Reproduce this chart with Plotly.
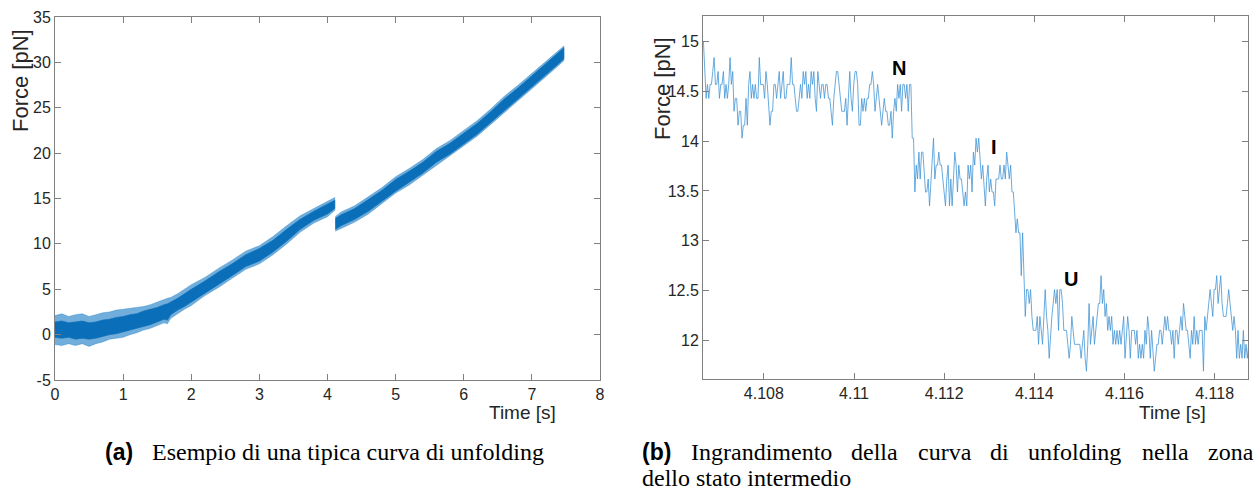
import numpy as np
import plotly.graph_objects as go

# ---------------- data: panel (a) full unfolding curve (noise envelope)
T_A1 = [0.00, 0.10, 0.20, 0.30, 0.40, 0.50, 0.60, 0.70, 0.80, 0.90, 1.00, 1.10, 1.20, 1.30, 1.40,
        1.50, 1.60, 1.65, 1.70, 1.80, 1.90, 2.00, 2.20, 2.40, 2.60, 2.80, 3.00, 3.20, 3.40, 3.60,
        3.80, 4.00, 4.107]
CORE_LO_A1 = [-0.3, -0.4, -0.3, -0.5, -0.4, -0.5, -0.4, -0.2, 0.0, 0.1, 0.3, 0.5, 0.7, 0.9, 1.1,
              1.4, 1.7, 1.6, 2.2, 2.7, 3.1, 3.6, 4.6, 5.5, 6.5, 7.5, 8.1, 9.1, 10.3, 11.6,
              12.6, 13.3, 13.9]
CORE_HI_A1 = [1.4, 1.5, 1.3, 1.4, 1.5, 1.3, 1.4, 1.6, 1.7, 1.9, 2.0, 2.2, 2.3, 2.6, 2.8,
              3.0, 3.3, 3.4, 3.6, 4.0, 4.5, 5.0, 5.9, 6.9, 7.8, 8.8, 9.5, 10.4, 11.6, 12.7,
              13.6, 14.4, 14.8]
OUT_LO_A1 = [-1.1, -1.2, -1.0, -1.2, -1.0, -1.3, -1.0, -0.8, -0.5, -0.4, -0.3, 0.0, 0.2, 0.5, 0.7,
             1.0, 1.3, 1.2, 1.8, 2.3, 2.8, 3.2, 4.3, 5.2, 6.2, 7.2, 7.8, 8.8, 10.0, 11.3,
             12.3, 13.0, 13.7]
OUT_HI_A1 = [2.1, 2.3, 2.0, 2.2, 2.3, 2.0, 2.2, 2.4, 2.5, 2.7, 2.8, 2.9, 3.0, 3.1, 3.3,
             3.6, 3.9, 4.0, 4.1, 4.5, 5.0, 5.5, 6.3, 7.3, 8.2, 9.2, 9.8, 10.8, 12.0, 13.1,
             13.9, 14.7, 15.1]

T_A2 = [4.114, 4.20, 4.40, 4.60, 4.80, 5.00, 5.20, 5.40, 5.60, 5.80, 6.00, 6.20, 6.40, 6.60,
        6.80, 7.00, 7.20, 7.40, 7.47]
CORE_LO_A2 = [11.6, 12.0, 12.7, 13.6, 14.7, 15.8, 16.8, 17.8, 19.0, 19.9, 21.0, 22.1, 23.4, 24.8,
              26.0, 27.3, 28.6, 29.9, 30.4]
CORE_HI_A2 = [12.8, 13.2, 13.9, 14.9, 15.9, 17.1, 18.0, 19.0, 20.2, 21.1, 22.2, 23.3, 24.6, 26.0,
              27.2, 28.5, 29.8, 31.1, 31.6]
OUT_LO_A2 = [11.4, 11.7, 12.4, 13.3, 14.4, 15.6, 16.5, 17.5, 18.7, 19.7, 20.8, 21.9, 23.2, 24.6,
             25.8, 27.1, 28.4, 29.7, 30.2]
OUT_HI_A2 = [13.0, 13.5, 14.2, 15.2, 16.2, 17.4, 18.3, 19.3, 20.5, 21.4, 22.5, 23.6, 24.9, 26.3,
             27.5, 28.8, 30.1, 31.4, 31.8]

# ---------------- data: panel (b) zoom on the intermediate state (samples)
T0_B = 4.10666          # time of first sample [s]
DT_B = 0.0000295        # sampling step [s]

F_N1 = [15.0, 14.70, 14.43, 14.57, 14.43, 14.57, 14.57, 14.70, 14.84, 14.57,
        14.57, 14.70, 14.43, 14.57, 14.57, 14.70, 14.43, 14.57, 14.43, 14.57,
        14.84, 14.57, 14.70, 14.30, 14.43, 14.43, 14.16, 14.30, 14.30, 14.03,
        14.16, 14.16, 14.43, 14.16, 14.57, 14.70, 14.43, 14.57, 14.43, 14.57,
        14.43, 14.43, 14.84, 14.57, 14.57, 14.57, 14.43, 14.70, 14.57, 14.30,
        14.16, 14.30, 14.30, 14.57, 14.57, 14.43, 14.57, 14.70, 14.43, 14.57,
        14.70, 14.43, 14.43, 14.57, 14.57, 14.57, 14.84, 14.57, 14.57, 14.43,
        14.30, 14.30, 14.43, 14.57, 14.43, 14.70, 14.57, 14.70, 14.43, 14.57,
        14.43, 14.70]
F_N2 = [14.57, 14.70, 14.43, 14.30, 14.70, 14.57, 14.43, 14.57, 14.57, 14.43,
        14.57, 14.57, 14.43, 14.43, 14.30, 14.16, 14.43, 14.57, 14.70, 14.70,
        14.57, 14.43, 14.30, 14.30, 14.30, 14.43, 14.16, 14.43, 14.70, 14.43,
        14.30, 14.57, 14.70, 14.70, 14.57, 14.16, 14.16, 14.43, 14.30, 14.43,
        14.30, 14.43, 14.43, 14.57, 14.57, 14.70, 14.57, 14.30, 14.43, 14.57,
        14.43, 14.30, 14.16, 14.30, 14.43, 14.30, 14.30, 14.16, 14.16, 14.30,
        14.03, 14.30, 14.43, 14.30, 14.57, 14.43, 14.57, 14.30, 14.57, 14.57,
        14.43, 14.57, 14.30, 14.57, 14.57,
        14.03, 14.03]
F_I = [13.49, 13.76, 13.62, 13.89, 13.62, 13.89, 13.89, 13.62, 13.49, 13.49,
       13.62, 13.35, 13.62, 13.89, 14.03, 13.62, 13.76, 13.76, 13.89, 13.76,
       13.76, 13.62, 13.49, 13.35, 13.62, 13.76, 13.35, 13.62, 13.35, 13.62,
       13.89, 13.76, 13.49, 13.76, 13.62, 13.62, 13.49, 13.35, 13.49, 13.35,
       13.76, 13.62, 13.76, 13.49, 13.89, 13.76, 14.03, 13.89, 14.03, 13.76,
       13.62, 13.76, 13.49, 13.35, 13.62, 13.76, 13.49, 13.62, 13.49, 13.49,
       13.35, 13.62, 13.62, 13.62, 13.76, 13.62, 13.62, 13.76, 13.62, 13.89,
       13.76, 13.62, 13.76, 13.49, 13.49]
F_DROP = [13.22, 13.08, 13.22, 13.08, 13.08, 12.65, 13.08, 12.51, 12.24]
F_U1 = [12.51, 12.51, 12.37, 12.51, 12.24, 12.10, 12.10, 12.10, 12.24, 11.96,
        12.24, 12.10, 11.96, 12.24, 12.51, 12.24, 12.10, 11.82, 12.10, 12.24,
        12.37, 12.51, 12.37, 12.51, 12.10, 12.51, 12.51, 12.37, 12.10, 12.10,
        12.10, 11.96, 11.82, 11.96, 12.24, 12.10, 11.96, 11.96, 11.96, 11.96,
        11.96, 11.82, 11.96, 12.10, 11.82, 11.69, 11.96, 12.37, 11.96, 12.10,
        12.24, 11.96, 12.10, 12.24, 12.37, 12.37, 12.65, 12.37, 12.51, 12.24,
        12.37, 12.10, 12.24, 12.10, 12.24, 11.96, 12.10, 11.96, 12.10, 11.96,
        12.10, 11.96, 12.10, 12.24, 11.82, 12.10, 12.24, 12.10, 11.82, 12.10,
        12.10, 12.10, 11.96, 12.10, 11.82]
F_U2 = [11.96, 11.82, 11.96, 11.82, 12.10, 11.96, 12.24, 12.10, 11.82, 12.10,
        11.82, 11.69, 11.82, 11.96, 11.96, 12.10, 12.10, 11.96, 12.10, 12.24,
        12.10, 12.24, 12.10, 12.10, 11.96, 12.10, 11.82, 12.10, 12.10, 11.96,
        12.10, 12.24, 12.10, 12.37, 12.24, 12.10, 12.10, 11.96, 11.82, 12.10,
        11.96, 12.24, 11.96, 12.10, 11.96, 12.10, 12.10, 12.10, 11.69, 12.24,
        12.10, 12.24, 12.37, 12.51, 12.37, 12.24, 12.51, 12.51, 12.65, 12.37,
        12.51, 12.65, 12.37, 12.24, 12.24, 12.24, 12.37, 12.51, 12.37, 12.24,
        12.10, 12.24, 12.10, 11.82, 12.10, 11.82, 11.96, 11.82, 12.10, 11.82,
        11.96, 11.82, 11.96, 12.10]

STATE_LABELS = ["N", "I", "U"]
STATE_T = [4.11099, 4.11311, 4.11482]
STATE_F = [14.73, 13.94, 12.62]

A_XTICKS = [0, 1, 2, 3, 4, 5, 6, 7, 8]
A_YTICKS = [-5, 0, 5, 10, 15, 20, 25, 30, 35]
A_YTICKTEXT = ["-5", "0", "5", "10", "15", "20", "25", "30", "35"]
B_XTICKS = [4.108, 4.110, 4.112, 4.114, 4.116, 4.118]
B_XTICKTEXT = ["4.108", "4.11", "4.112", "4.114", "4.116", "4.118"]
B_YTICKS = [12, 12.5, 13, 13.5, 14, 14.5, 15]
B_YTICKTEXT = ["12", "12.5", "13", "13.5", "14", "14.5", "15"]

CAP_A_TAG = "(a)"
CAP_A_TEXT = "Esempio di una tipica curva di unfolding"
CAP_B_TAG = "(b)"
CAP_B_LINE1_WORDS = ["Ingrandimento", "della", "curva", "di", "unfolding", "nella", "zona"]
CAP_B_LINE2 = "dello stato intermedio"

# ---------------- figure
W, H = 1255, 491
fig = go.Figure()

def band(t, lo, hi, color, xa, ya):
    return go.Scatter(x=list(t) + list(t[::-1]), y=list(hi) + list(lo[::-1]),
                      fill="toself", fillcolor=color, mode="lines",
                      line=dict(color=color, width=0.6), hoverinfo="skip",
                      showlegend=False, xaxis=xa, yaxis=ya)

OUT_COL = "rgba(20,120,195,0.6)"
CORE_COL = "#0a6eb9"
fig.add_trace(band(T_A1, OUT_LO_A1, OUT_HI_A1, OUT_COL, "x", "y"))
fig.add_trace(band(T_A2, OUT_LO_A2, OUT_HI_A2, OUT_COL, "x", "y"))
fig.add_trace(band(T_A1, CORE_LO_A1, CORE_HI_A1, CORE_COL, "x", "y"))
fig.add_trace(band(T_A2, CORE_LO_A2, CORE_HI_A2, CORE_COL, "x", "y"))

f_b = F_N1 + F_N2 + F_I + F_DROP + F_U1 + F_U2
t_b = T0_B + DT_B * np.arange(len(f_b))
fig.add_trace(go.Scatter(x=t_b, y=f_b, mode="lines", line=dict(color="#4396d6", width=0.8),
                         showlegend=False, xaxis="x2", yaxis="y2"))

def px(x):
    return x / W
def py(y):
    return 1 - y / H

TICKFONT = dict(family="Liberation Sans, Arial, sans-serif", size=16, color="#262626")
axis_common = dict(showline=True, linecolor="#808080", linewidth=1, mirror="ticks",
                   ticks="inside", ticklen=6, tickcolor="#808080", showgrid=False,
                   zeroline=False, tickfont=TICKFONT, automargin=False)

fig.update_layout(
    width=W, height=H, margin=dict(l=0, r=0, t=0, b=0, autoexpand=False),
    paper_bgcolor="white", plot_bgcolor="white",
    xaxis=dict(domain=[px(55), px(600)], range=[0, 8], tickvals=A_XTICKS, anchor="y", **axis_common),
    yaxis=dict(domain=[py(380), py(17)], range=[-5, 35], tickvals=A_YTICKS, ticktext=A_YTICKTEXT,
               anchor="x", **axis_common),
    xaxis2=dict(domain=[px(703), px(1248)], range=[4.10665, 4.11874], tickvals=B_XTICKS,
                ticktext=B_XTICKTEXT, anchor="y2", **axis_common),
    yaxis2=dict(domain=[py(379), py(16)], range=[11.612, 15.257], tickvals=B_YTICKS,
                ticktext=B_YTICKTEXT, anchor="x2", **axis_common),
)

ann = []
TITLEFONT_X = dict(family="Liberation Sans, Arial, sans-serif", size=19, color="#262626")
TITLEFONT_Y = dict(family="Liberation Sans, Arial, sans-serif", size=22, color="#262626")
ann.append(dict(x=px(522), y=py(412), xref="paper", yref="paper", text="Time [s]",
                showarrow=False, font=TITLEFONT_X, xanchor="center", yanchor="middle"))
ann.append(dict(x=px(1172), y=py(412), xref="paper", yref="paper", text="Time [s]",
                showarrow=False, font=TITLEFONT_X, xanchor="center", yanchor="middle"))
ann.append(dict(x=px(20), y=py(81), xref="paper", yref="paper", text="Force [pN]", textangle=-90,
                showarrow=False, font=TITLEFONT_Y, xanchor="center", yanchor="middle"))
ann.append(dict(x=px(662), y=py(89), xref="paper", yref="paper", text="Force [pN]", textangle=-90,
                showarrow=False, font=TITLEFONT_Y, xanchor="center", yanchor="middle"))

for lab, tx, fy in zip(STATE_LABELS, STATE_T, STATE_F):
    ann.append(dict(x=tx, y=fy, xref="x2", yref="y2", text="<b>" + lab + "</b>", showarrow=False,
                    font=dict(family="Liberation Sans, Arial, sans-serif", size=20,
                              color="black"), xanchor="center", yanchor="middle"))

CAPTAG = dict(family="Liberation Sans, Arial, sans-serif", size=23, color="black")
CAPTXT = dict(family="Liberation Serif, Times New Roman, serif", size=24, color="black")
ann.append(dict(x=px(103), y=py(452), xref="paper", yref="paper", text="<b>" + CAP_A_TAG + "</b>",
                showarrow=False, font=CAPTAG, xanchor="left", yanchor="middle"))
ann.append(dict(x=px(150), y=py(452), xref="paper", yref="paper", text=CAP_A_TEXT,
                showarrow=False, font=CAPTXT, xanchor="left", yanchor="middle"))
ann.append(dict(x=px(640), y=py(452), xref="paper", yref="paper", text="<b>" + CAP_B_TAG + "</b>",
                showarrow=False, font=CAPTAG, xanchor="left", yanchor="middle"))
# justified first line of caption (b): word anchors in pixels
WORD_X = [689, 849, 916, 988, 1026, 1140, 1206]
for wd, wx in zip(CAP_B_LINE1_WORDS, WORD_X):
    ann.append(dict(x=px(wx), y=py(452), xref="paper", yref="paper", text=wd,
                    showarrow=False, font=CAPTXT, xanchor="left", yanchor="middle"))
ann.append(dict(x=px(640), y=py(478), xref="paper", yref="paper", text=CAP_B_LINE2,
                showarrow=False, font=CAPTXT, xanchor="left", yanchor="middle"))
fig.update_layout(annotations=ann)

fig.write_html("out.html", config={"displayModeBar": False},
               post_script="document.body.style.margin='0';document.body.style.overflow='hidden';")
